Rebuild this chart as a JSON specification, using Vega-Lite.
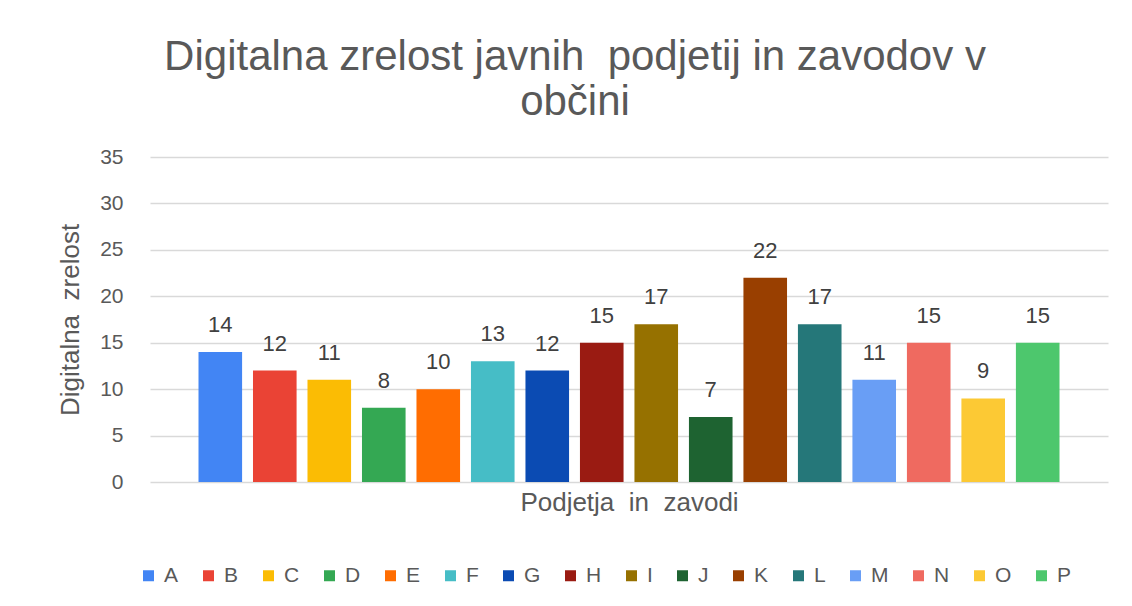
{
  "$schema": "https://vega.github.io/schema/vega-lite/v6.json",
  "width": 958,
  "height": 325,
  "autosize": "none",
  "padding": {"left": 150, "top": 157, "right": 24, "bottom": 124},
  "background": "white",
  "title": {
    "text": ["Digitalna zrelost javnih\u00a0 podjetij in zavodov v", "občini"],
    "font": "Liberation Sans",
    "fontSize": 42,
    "fontWeight": "normal",
    "color": "#595959",
    "lineHeight": 45,
    "anchor": "middle",
    "dx": -54,
    "offset": 22
  },
  "data": {
    "values": [
      {"s": "A", "v": 14}, {"s": "B", "v": 12}, {"s": "C", "v": 11}, {"s": "D", "v": 8},
      {"s": "E", "v": 10}, {"s": "F", "v": 13}, {"s": "G", "v": 12}, {"s": "H", "v": 15},
      {"s": "I", "v": 17}, {"s": "J", "v": 7}, {"s": "K", "v": 22}, {"s": "L", "v": 17},
      {"s": "M", "v": 11}, {"s": "N", "v": 15}, {"s": "O", "v": 9}, {"s": "P", "v": 15}
    ]
  },
  "encoding": {
    "x": {
      "field": "s", "type": "nominal",
      "scale": {"paddingInner": 0.2, "paddingOuter": 0.89},
      "axis": {"labels": false, "ticks": false, "domain": false, "title": "Podjetja\u00a0 in\u00a0 zavodi",
        "titleFont": "Liberation Sans", "titleFontSize": 26, "titleFontWeight": "normal",
        "titleColor": "#595959", "titlePadding": 7, "titleX": 479, "titleAnchor": "middle"}
    },
    "y": {
      "field": "v", "type": "quantitative",
      "scale": {"domain": [0, 35]},
      "axis": {"values": [0, 5, 10, 15, 20, 25, 30, 35], "title": "Digitalna\u00a0 zrelost",
        "titleFont": "Liberation Sans", "titleFontSize": 26, "titleFontWeight": "normal",
        "titleColor": "#595959", "titlePadding": 16,
        "labelFont": "Liberation Sans", "labelFontSize": 21, "labelColor": "#595959",
        "labelPadding": 27, "ticks": false, "domain": false,
        "gridColor": "#d9d9d9", "gridWidth": 1.5}
    }
  },
  "layer": [
    {
      "mark": {"type": "bar"},
      "encoding": {
        "color": {
          "field": "s", "type": "nominal",
          "scale": {
            "domain": ["A","B","C","D","E","F","G","H","I","J","K","L","M","N","O","P"],
            "range": ["#4285F4","#EA4335","#FBBC04","#34A853","#FF6D01","#46BDC6","#0B4BB3","#9A1B12","#967100","#1E6331","#993F00","#257779","#699EF5","#EF6A60","#FCC934","#4DC76D"]
          },
          "legend": {
            "title": null, "orient": "none", "direction": "horizontal",
            "legendX": -12, "legendY": 408,
            "symbolType": "square", "symbolSize": 121, "symbolStrokeWidth": 0,
            "labelFont": "Liberation Sans", "labelFontSize": 21, "labelColor": "#595959",
            "labelOffset": 5, "columnPadding": 19, "columns": 16
          }
        }
      }
    },
    {
      "mark": {"type": "text", "baseline": "bottom", "dy": -15, "font": "Liberation Sans", "fontSize": 22, "color": "#404040"},
      "encoding": {"text": {"field": "v", "type": "quantitative"}}
    }
  ],
  "config": {"view": {"stroke": null}}
}
